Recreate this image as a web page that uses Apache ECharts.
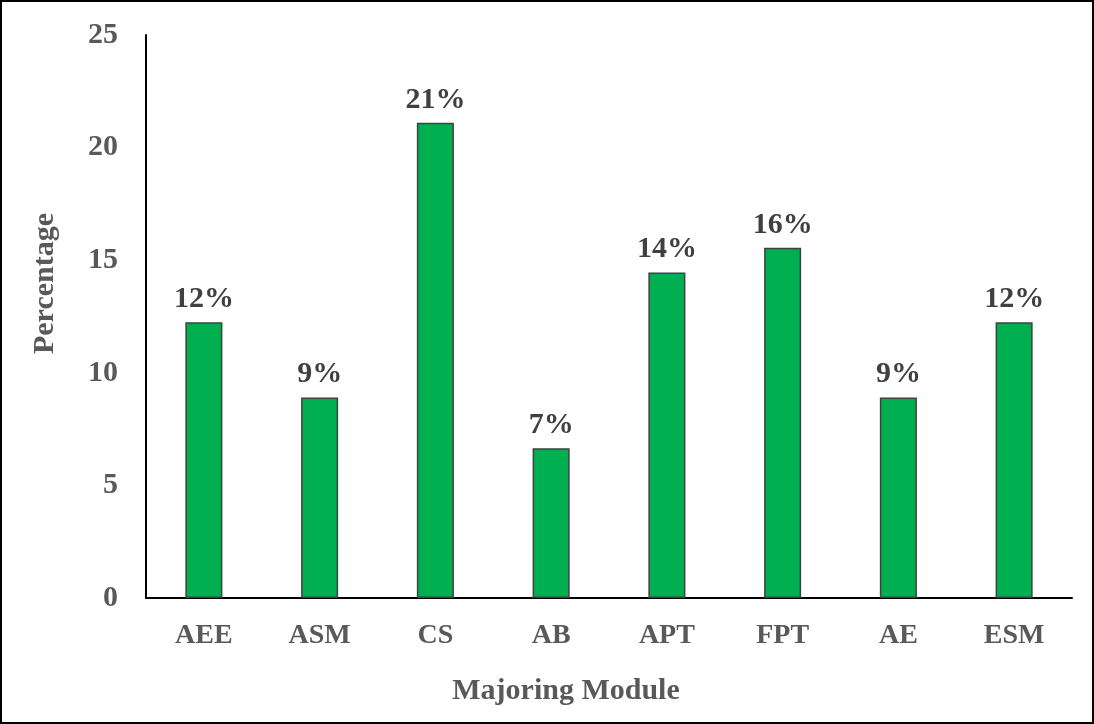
<!DOCTYPE html>
<html>
<head>
<meta charset="utf-8">
<script src="https://cdn.jsdelivr.net/npm/echarts@6/dist/echarts.min.js"></script>
<style>
  html, body { margin: 0; padding: 0; background: #fff; }
  #chart { width: 1094px; height: 724px; box-sizing: border-box; border: 2px solid #000; }
</style>
</head>
<body>
<div id="chart"></div>
<script>
// data
const modules = ['AEE', 'ASM', 'CS', 'AB', 'APT', 'FPT', 'AE', 'ESM'];
const percentValues = [12.25, 8.9, 21.1, 6.65, 14.45, 15.55, 8.9, 12.25];
const percentLabels = ['12%', '9%', '21%', '7%', '14%', '16%', '9%', '12%'];

const font = '"Liberation Serif", serif';

const chart = echarts.init(document.getElementById('chart'));
chart.setOption({
  animation: false,
  grid: { left: 144, right: 20, top: 33, bottom: 124, containLabel: false },
  xAxis: {
    type: 'category',
    data: modules,
    name: 'Majoring Module',
    nameLocation: 'middle',
    nameGap: 78,
    nameTextStyle: { fontFamily: font, fontWeight: 'bold', fontSize: 30, color: '#595959', padding: [0, 86, 0, 0] },
    axisLine: { lineStyle: { color: '#000', width: 2 } },
    axisTick: { show: false },
    axisLabel: { fontFamily: font, fontWeight: 'bold', fontSize: 28, color: '#595959', margin: 24 }
  },
  yAxis: {
    type: 'value',
    min: 0, max: 25, interval: 5,
    name: 'Percentage',
    nameLocation: 'middle',
    nameGap: 86,
    nameRotate: 90,
    nameTextStyle: { fontFamily: font, fontWeight: 'bold', fontSize: 30, color: '#595959', padding: [0, 0, 0, 66] },
    axisLine: { show: true, lineStyle: { color: '#000', width: 2 } },
    axisTick: { show: false },
    splitLine: { show: false },
    axisLabel: { fontFamily: font, fontWeight: 'bold', fontSize: 30, color: '#595959', margin: 28 }
  },
  series: [{
    type: 'bar',
    data: percentValues,
    barWidth: '32%',
    itemStyle: { color: '#00B050', borderColor: '#404040', borderWidth: 1.5 },
    label: {
      show: true,
      position: 'top',
      distance: 8,
      formatter: p => percentLabels[p.dataIndex],
      fontFamily: font, fontWeight: 'bold', fontSize: 30, color: '#404040'
    }
  }]
});
</script>
</body>
</html>
